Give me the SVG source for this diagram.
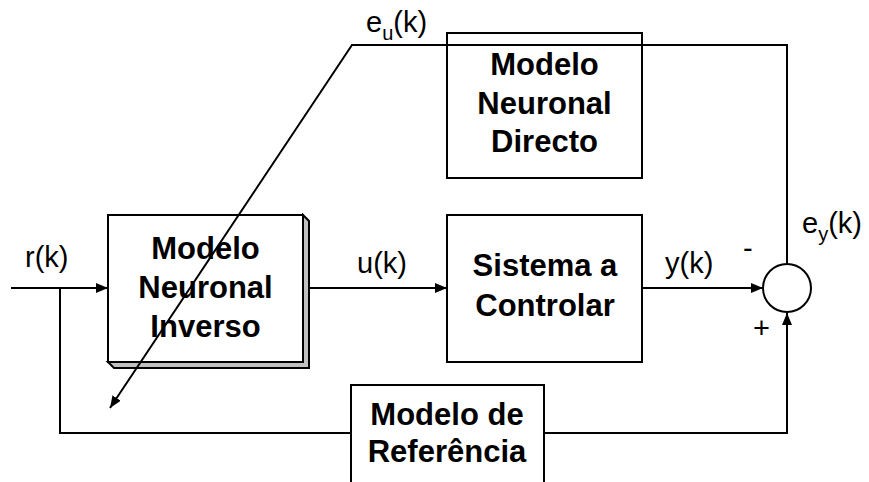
<svg xmlns="http://www.w3.org/2000/svg" width="869" height="482" viewBox="0 0 869 482">
<defs>
<style>
.box{fill:none;stroke:#000;stroke-width:2}
.bt{font-family:"Liberation Sans",Arial,sans-serif;font-weight:bold;font-size:31px;text-anchor:middle;fill:#000}
.lb{font-family:"Liberation Sans",Arial,sans-serif;font-size:29px;fill:#000}
.sub{font-size:20px}
.ln{fill:none;stroke:#000;stroke-width:2}
</style>
<marker id="ah" viewBox="0 0 12 10" refX="12" refY="5" markerWidth="12" markerHeight="10" markerUnits="userSpaceOnUse" orient="auto">
<path d="M0,0 L12,5 L0,10 Z" fill="#000"/>
</marker>
</defs>
<rect width="869" height="482" fill="#fff"/>
<g id="inverso">
<polygon points="303,215 309,221 309,368 114,368 108,362 303,362" fill="#c0c0c0" stroke="#000" stroke-width="2"/>
<rect class="box" x="108" y="215" width="195" height="147" fill="#fff" style="fill:#fff"/>
<text class="bt" x="205.5" y="259">Modelo</text>
<text class="bt" x="205.5" y="298">Neuronal</text>
<text class="bt" x="205.5" y="337">Inverso</text>
</g>
<g id="sistema">
<rect class="box" x="447" y="215" width="195" height="147"/>
<text class="bt" x="545" y="276">Sistema a</text>
<text class="bt" x="545" y="316">Controlar</text>
</g>
<g id="directo">
<rect class="box" x="447" y="33" width="195" height="145"/>
<text class="bt" x="544.5" y="75">Modelo</text>
<text class="bt" x="544.5" y="114">Neuronal</text>
<text class="bt" x="544.5" y="152">Directo</text>
</g>
<g id="referencia">
<rect class="box" x="351" y="385" width="193" height="110" style="fill:#fff"/>
<text class="bt" x="447" y="425">Modelo de</text>
<text class="bt" x="447" y="462">Referência</text>
</g>
<g id="sumador">
<circle cx="787" cy="288" r="24" fill="#fff" stroke="#000" stroke-width="2"/>
</g>
<g id="connectors">
<line class="ln" x1="11" y1="288" x2="108" y2="288" marker-end="url(#ah)"/>
<line class="ln" x1="309" y1="288" x2="447" y2="288" marker-end="url(#ah)"/>
<line class="ln" x1="642" y1="288" x2="763" y2="288" marker-end="url(#ah)"/>
<polyline class="ln" points="60,288 60,433 351,433"/>
<polyline class="ln" points="544,433 787,433 787,313" marker-end="url(#ah)"/>
<polyline class="ln" points="787,264 787,45 352,45 110,408" marker-end="url(#ah)"/>
</g>
<g id="labels">
<text class="lb" x="25" y="267">r(k)</text>
<text class="lb" x="357" y="273">u(k)</text>
<text class="lb" x="665" y="273">y(k)</text>
<text class="lb" x="366" y="32">e<tspan class="sub" dy="8">u</tspan><tspan dy="-8">(k)</tspan></text>
<text class="lb" x="802" y="233">e<tspan class="sub" dy="8">y</tspan><tspan dy="-8">(k)</tspan></text>
<text class="lb" x="743" y="258">-</text>
<text class="lb" x="753" y="338">+</text>
</g>
</svg>
